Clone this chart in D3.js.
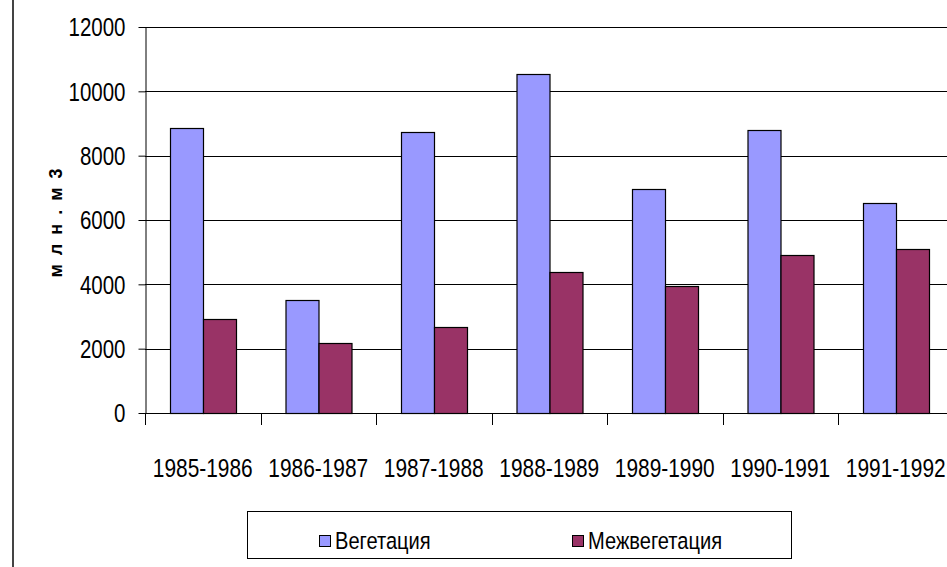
<!DOCTYPE html>
<html>
<head>
<meta charset="utf-8">
<script src="https://cdn.jsdelivr.net/npm/d3@7"></script>
<style>
  body { margin: 0; background: #fff; }
  svg { display: block; }
  text { font-family: "Liberation Sans", Arial, sans-serif; }
</style>
</head>
<body>
<svg id="chart" width="947" height="567"></svg>
<script>
// data
const categories = ["1985-1986", "1986-1987", "1987-1988", "1988-1989", "1989-1990", "1990-1991", "1991-1992"];
const seriesNames = ["Вегетация", "Межвегетация"];
const vegetation = [8870, 3520, 8750, 10530, 6950, 8800, 6520];
const interVegetation = [2910, 2190, 2680, 4370, 3940, 4910, 5090];
const yTicks = [0, 2000, 4000, 6000, 8000, 10000, 12000];
const yTitle = "м л н . м 3";

const colors = ["#9999ff", "#993366"];
const squeeze = 0.82; // reference uses a narrow face, squash the regular one

const width = 947, height = 567;
const svg = d3.select("#chart");

// chart frame edge on the left
svg.append("line")
  .attr("x1", 13).attr("x2", 13)
  .attr("y1", 0).attr("y2", height)
  .attr("stroke", "#444")
  .attr("stroke-width", 2);

const plot = { left: 145, top: 27, bottom: 413, step: 115.5 };

const x = d3.scaleBand()
  .domain(categories)
  .range([plot.left, plot.left + plot.step * categories.length])
  .padding(0);

const xSub = d3.scaleBand()
  .domain(seriesNames)
  .range([0, x.bandwidth()])
  .paddingInner(0)
  .paddingOuter(0.75);

const y = d3.scaleLinear()
  .domain([0, 12000])
  .range([plot.bottom, plot.top]);

// gridlines
svg.append("g")
  .selectAll("line")
  .data(yTicks.filter(d => d > 0))
  .join("line")
  .attr("x1", plot.left).attr("x2", width)
  .attr("y1", d => Math.round(y(d)) + 0.5)
  .attr("y2", d => Math.round(y(d)) + 0.5)
  .attr("stroke", "#000")
  .attr("stroke-width", 1);

// bars
const rows = categories.map((c, i) => ({ cat: c, values: [vegetation[i], interVegetation[i]] }));

svg.append("g")
  .selectAll("g")
  .data(rows)
  .join("g")
  .attr("transform", d => `translate(${x(d.cat)},0)`)
  .selectAll("rect")
  .data(d => d.values.map((v, j) => ({ key: seriesNames[j], v, j })))
  .join("rect")
  .attr("x", d => Math.round(xSub(d.key)) + 0.5)
  .attr("y", d => Math.round(y(d.v)) + 0.5)
  .attr("width", xSub.bandwidth())
  .attr("height", d => y(0) - Math.round(y(d.v)))
  .attr("fill", d => colors[d.j])
  .attr("stroke", "#000")
  .attr("stroke-width", 1.2);

// y axis
const yAxis = svg.append("g")
  .attr("transform", `translate(${plot.left + 0.5},0)`)
  .call(d3.axisLeft(y).tickValues(yTicks).tickFormat(d3.format("d"))
    .tickSize(7).tickPadding(15).tickSizeOuter(0))
  .call(g => g.selectAll("text")
    .attr("x", 0)
    .attr("dy", "0.35em")
    .attr("transform", `translate(-20,0) scale(${squeeze},1)`)
    .attr("font-family", "Liberation Sans, Arial, sans-serif")
    .attr("font-size", 25)
    .attr("fill", "#000"));
yAxis.select(".domain").attr("stroke", "#000");
yAxis.selectAll(".tick line").attr("stroke", "#000");

// x axis line + boundary ticks
const xg = svg.append("g");
xg.append("line")
  .attr("x1", plot.left).attr("x2", width)
  .attr("y1", plot.bottom + 0.5).attr("y2", plot.bottom + 0.5)
  .attr("stroke", "#000");
xg.selectAll(".bt")
  .data(categories)
  .join("line")
  .attr("class", "bt")
  .attr("x1", d => Math.round(x(d)) + 0.5)
  .attr("x2", d => Math.round(x(d)) + 0.5)
  .attr("y1", plot.bottom).attr("y2", plot.bottom + 12)
  .attr("stroke", "#000");
xg.selectAll("text")
  .data(categories)
  .join("text")
  .attr("transform", d => `translate(${x(d) + x.bandwidth() / 2},477) scale(${squeeze},1)`)
  .attr("text-anchor", "middle")
  .attr("font-size", 25.5)
  .attr("fill", "#000")
  .text(d => d);

// y title
svg.append("text")
  .attr("transform", "translate(62,222) rotate(-90)")
  .attr("text-anchor", "middle")
  .attr("font-weight", "bold")
  .attr("font-size", 18)
  .attr("letter-spacing", 2)
  .attr("fill", "#000")
  .text(yTitle);

// legend
const legend = svg.append("g");
legend.append("rect")
  .attr("x", 247.5).attr("y", 511.5)
  .attr("width", 544).attr("height", 47)
  .attr("fill", "#fff")
  .attr("stroke", "#000");
const legendX = [319, 572];
const items = legend.selectAll(".item")
  .data(seriesNames)
  .join("g")
  .attr("class", "item")
  .attr("transform", (d, i) => `translate(${legendX[i]},0)`);
items.append("rect")
  .attr("x", 0.5).attr("y", 535.5)
  .attr("width", 11).attr("height", 11)
  .attr("fill", (d, i) => colors[i])
  .attr("stroke", "#000");
items.append("text")
  .attr("transform", `translate(16,549) scale(${squeeze},1)`)
  .attr("font-size", 24.5)
  .attr("fill", "#000")
  .text(d => d);
</script>
</body>
</html>
